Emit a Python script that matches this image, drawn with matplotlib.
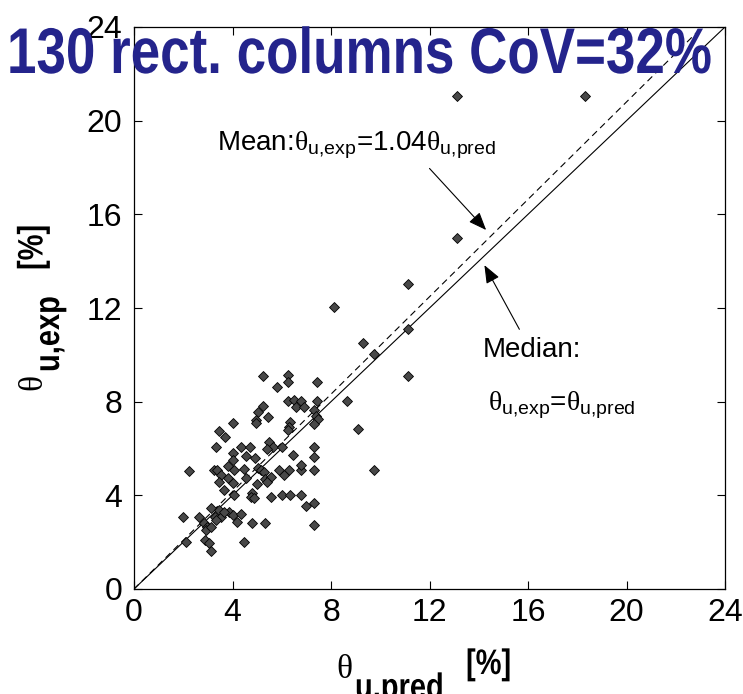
import matplotlib
matplotlib.use("Agg")
import matplotlib.pyplot as plt
from matplotlib.patheffects import AbstractPathEffect
from matplotlib.transforms import Affine2D

# ---- data -------------------------------------------------------------
theta_pred = [
    5.22, 6.24, 6.24, 5.80, 7.43,
    6.24, 6.50, 6.78, 6.57, 6.91, 7.43, 5.22, 5.02, 4.95, 4.95, 5.45, 4.04,
    6.34, 6.30, 6.24, 7.29, 7.39, 7.48, 7.29, 3.46, 3.69,
    3.32, 4.34, 4.70, 4.00, 4.54, 5.49, 5.63, 5.42, 6.03, 6.44, 7.32, 7.32,
    4.90, 4.00,
    2.24, 3.25, 3.39, 3.80, 4.07, 4.47, 5.02, 5.15, 5.28, 5.89, 6.30, 6.10,
    6.78, 6.78, 7.32, 3.55, 3.80, 3.46, 4.00, 4.54, 5.32, 5.56, 5.00, 5.42,
    3.66, 4.07, 4.81, 4.74, 4.88, 5.56, 5.99, 6.34, 6.78, 6.98, 7.32, 7.32,
    2.01, 2.64, 3.12, 3.46, 3.29, 3.52, 3.86, 4.00, 4.34, 4.17, 4.78, 5.33,
    2.85, 2.98, 2.91, 3.12, 3.32, 3.66,
    2.10, 2.89, 3.05, 3.12, 4.45,
    8.67, 9.10, 9.76, 9.31, 9.76, 8.13, 11.11, 11.11, 11.11, 13.11, 13.11,
    18.32,
]
theta_exp = [
    9.09, 9.14, 8.85, 8.64, 8.85,
    8.04, 8.07, 8.04, 7.78, 7.78, 8.04, 7.81, 7.57, 7.22, 7.08, 7.33, 7.10,
    7.14, 6.93, 6.79, 7.64, 7.39, 7.25, 7.05, 6.75, 6.48,
    6.05, 6.05, 6.05, 5.79, 5.68, 6.29, 6.05, 5.96, 6.05, 5.72, 6.05, 5.65,
    5.58, 5.51,
    5.04, 5.08, 5.08, 5.25, 5.08, 5.11, 5.18, 5.08, 5.00, 5.08, 5.08, 4.87,
    5.08, 5.29, 5.08, 4.87, 4.73, 4.58, 4.51, 4.73, 4.70, 4.77, 4.47, 4.58,
    4.23, 4.01, 4.09, 3.94, 3.87, 3.92, 4.01, 4.01, 4.01, 3.54, 3.66, 2.73,
    3.06, 3.06, 3.45, 3.37, 3.09, 3.09, 3.30, 3.18, 3.20, 2.88, 2.83, 2.83,
    2.81, 2.66, 2.52, 2.63, 2.95, 3.30,
    2.02, 2.09, 1.95, 1.64, 2.02,
    8.03, 6.83, 5.08, 10.52, 10.03, 12.05, 13.01, 11.10, 9.09, 15.00, 21.05,
    21.05,
]
mean_ratio = 1.04
axis_ticks = [0, 4, 8, 12, 16, 20, 24]
title_text = "130 rect. columns CoV=32%"

SANS = "Liberation Sans"
SERIF = "Liberation Serif"

plt.rcParams["font.family"] = [SANS, "DejaVu Sans"]
plt.rcParams["mathtext.fontset"] = "custom"
plt.rcParams["mathtext.rm"] = SERIF
plt.rcParams["mathtext.sf"] = SANS
plt.rcParams["mathtext.bf"] = SANS + ":bold"


class Condensed(AbstractPathEffect):
    """Squeeze glyphs along the writing direction (narrow typeface look)."""

    def __init__(self, factor=0.82):
        super().__init__()
        self.factor = factor

    def draw_path(self, renderer, gc, tpath, affine, rgbFace=None):
        squeeze = Affine2D().scale(self.factor, 1.0)
        renderer.draw_path(gc, tpath, squeeze + affine, rgbFace)


narrow = [Condensed(0.82)]

W, H = 743, 694
fig = plt.figure(figsize=(W / 100, H / 100), dpi=100)


def fx(px):
    return px / W


def fy(py):
    return 1 - py / H


ax = fig.add_axes([fx(134), fy(589), (725 - 134) / W, (589 - 27) / H])

# reference lines: median (y = x) and mean (y = 1.04 x)
ax.plot([0, 24], [0, 24], color="k", lw=0.8, zorder=2)
ax.plot([0, 24], [0, 24 * mean_ratio], color="k", lw=0.8,
        dashes=(6, 4), zorder=2)

ax.plot(theta_pred, theta_exp, linestyle="none", marker="D", ms=5.6,
        mfc="#484848", mec="k", mew=0.6, zorder=3)

ax.set_xlim(0, 24)
ax.set_ylim(0, 24)
ax.set_xticks(axis_ticks)
ax.set_yticks(axis_ticks)
ax.tick_params(direction="in", length=5.8, width=0.8, top=True, right=True,
               labelsize=23)
ax.tick_params(axis="x", pad=6.5)
ax.tick_params(axis="y", pad=8.5)
for s in ax.spines.values():
    s.set_linewidth(0.9)

# annotations
arrow = dict(arrowstyle="-|>,head_length=0.55,head_width=0.22", color="k",
             lw=0.8, shrinkA=0, shrinkB=0, mutation_scale=20)
ax.annotate("", xy=(14.30, 15.33), xytext=(12.0, 17.96), arrowprops=arrow)
ax.annotate("", xy=(14.23, 13.83), xytext=(15.65, 11.09), arrowprops=arrow)

ax.text(3.39, 18.74,
        r"Mean:$\mathrm{\theta}_{\mathsf{u{,}exp}}$=%.2f$\mathrm{\theta}_{\mathsf{u{,}pred}}$" % mean_ratio,
        fontsize=20, ha="left", va="baseline")
ax.text(14.16, 9.92, "Median:", fontsize=20, ha="left", va="baseline")
ax.text(14.37, 7.64,
        r"$\mathrm{\theta}_{\mathsf{u{,}exp}}$=$\mathrm{\theta}_{\mathsf{u{,}pred}}$",
        fontsize=20, ha="left", va="baseline")

# x axis label pieces
fig.text(fx(336), fy(678), "\u03b8", family=SERIF, fontsize=24,
         ha="left", va="baseline")
fig.text(fx(355), fy(698), "u,pred", fontweight="bold", fontsize=25.5,
         ha="left", va="baseline", path_effects=narrow)
fig.text(fx(466), fy(674), "[%]", fontweight="bold", fontsize=25.5,
         ha="left", va="baseline", path_effects=narrow)

# y axis label pieces
fig.text(fx(33.5), fy(382), "\u03b8", family=SERIF, fontsize=24,
         rotation=90, ha="center", va="center")
fig.text(fx(59), fy(372), "u,exp", fontweight="bold", fontsize=25.5,
         rotation=90, rotation_mode="anchor", ha="left", va="baseline",
         path_effects=narrow)
fig.text(fx(42.5), fy(270), "[%]", fontweight="bold", fontsize=25.5,
         rotation=90, rotation_mode="anchor", ha="left", va="baseline",
         path_effects=narrow)

# title
fig.text(fx(7), fy(73), title_text, fontweight="bold", fontsize=46.5,
         color="#24248c", ha="left", va="baseline", zorder=5,
         path_effects=narrow)

fig.savefig("out.png", dpi=100)
